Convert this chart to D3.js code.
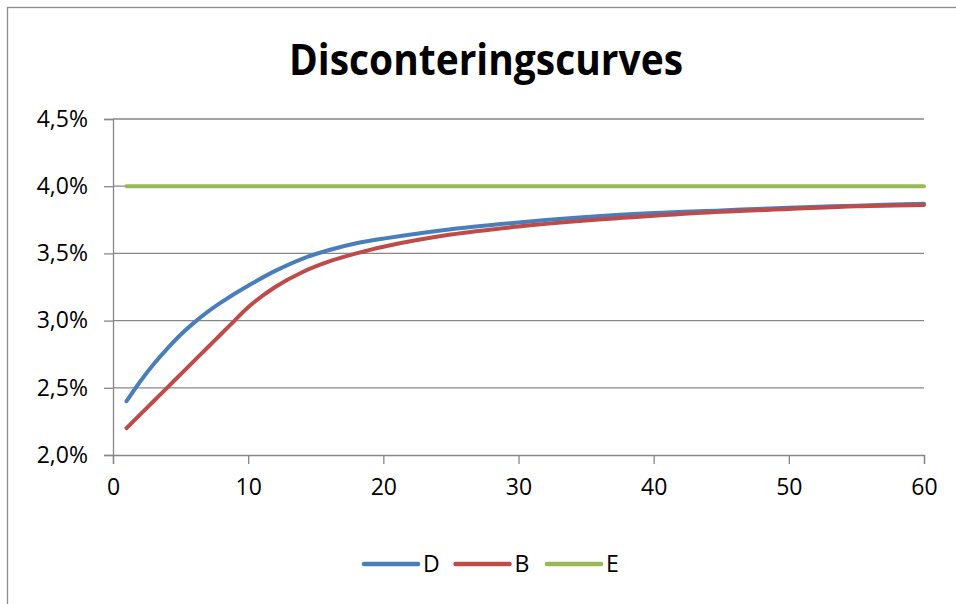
<!DOCTYPE html>
<html>
<head>
<meta charset="utf-8">
<script src="https://cdn.jsdelivr.net/npm/d3@7"></script>
<style>
  body { margin: 0; background: #fff; }
  text { font-family: "Open Sans", "DejaVu Sans", sans-serif; fill: #000; }
</style>
</head>
<body>
<svg id="chart" width="956" height="604"></svg>
<script>
// values (rate in %)
const years = [1, 2, 3, 4, 5, 6, 7, 8, 9, 10, 12, 14, 16, 18, 20, 25, 30, 35, 40, 45, 50, 55, 60];
const seriesD = [2.40, 2.545, 2.675, 2.79, 2.895, 2.985, 3.065, 3.135, 3.20, 3.26, 3.37, 3.46, 3.525, 3.575, 3.61, 3.68, 3.73, 3.77, 3.80, 3.82, 3.84, 3.855, 3.87];
const seriesB = [2.20, 2.30, 2.40, 2.50, 2.60, 2.70, 2.80, 2.90, 3.00, 3.10, 3.25, 3.36, 3.44, 3.50, 3.55, 3.64, 3.70, 3.745, 3.78, 3.81, 3.83, 3.85, 3.86];
const seriesE = [4.00, 4.00, 4.00, 4.00, 4.00, 4.00, 4.00, 4.00, 4.00, 4.00, 4.00, 4.00, 4.00, 4.00, 4.00, 4.00, 4.00, 4.00, 4.00, 4.00, 4.00, 4.00, 4.00];
const seriesNames = ["D", "B", "E"];
const seriesColors = ["#4a7ebb", "#be4b48", "#98b954"];
const yTicks = [2.0, 2.5, 3.0, 3.5, 4.0, 4.5];
const xTicks = [0, 10, 20, 30, 40, 50, 60];

const svg = d3.select("#chart");

// outer chart frame (right/bottom edges fall outside the picture)
svg.append("rect")
    .attr("x", 7.5).attr("y", 7.5)
    .attr("width", 970).attr("height", 620)
    .attr("fill", "#fff")
    .attr("stroke", "#8c8c8c")
    .attr("stroke-width", 1.3);

let x = d3.scaleLinear().domain([0, 60]).range([113, 924]);
let y = d3.scaleLinear().domain([2.0, 4.5]).range([455, 119]);

// title
svg.append("text")
    .attr("x", 486).attr("y", 75)
    .attr("text-anchor", "middle")
    .attr("font-size", "43px")
    .attr("font-weight", "bold")
    .attr("textLength", 394)
    .attr("lengthAdjust", "spacingAndGlyphs")
    .text("Disconteringscurves");

// horizontal gridlines
svg.append("g")
    .selectAll("line")
    .data(yTicks.filter(d => d > 2.0))
    .join("line")
    .attr("x1", x(0)).attr("x2", x(60))
    .attr("y1", d => y(d)).attr("y2", d => y(d))
    .attr("stroke", "#878787")
    .attr("stroke-width", 1.3);

const fmt = d => d.toFixed(1).replace(".", ",") + "%";

// y axis
const yAxis = svg.append("g")
    .attr("transform", `translate(${x(0)},0)`)
    .call(d3.axisLeft(y).tickValues(yTicks).tickFormat(fmt).tickSize(9).tickPadding(16));

// x axis
const xAxis = svg.append("g")
    .attr("transform", `translate(0,${y(2.0)})`)
    .call(d3.axisBottom(x).tickValues(xTicks).tickSize(9).tickPadding(15));

[yAxis, xAxis].forEach(g => {
    g.select(".domain").attr("stroke", "#878787").attr("stroke-width", 1.3);
    g.selectAll(".tick line").attr("stroke", "#878787").attr("stroke-width", 1.3);
    g.selectAll(".tick text")
        .attr("font-family", "'Open Sans', sans-serif")
        .attr("font-size", "23px")
        .attr("fill", "#000");
});

// lines (Excel smoothed lines)
const line = d3.line()
    .x((d, i) => x(years[i]))
    .y(d => y(d))
    .curve(d3.curveCatmullRom.alpha(0.5));

[seriesD, seriesB, seriesE].forEach((vals, i) => {
    svg.append("path")
        .datum(vals)
        .attr("d", line)
        .attr("fill", "none")
        .attr("stroke", seriesColors[i])
        .attr("stroke-width", 4)
        .attr("stroke-linecap", "round");
});

// legend
const legend = svg.append("g")
    .attr("transform", "translate(364,564)");

const item = legend.selectAll("g")
    .data(seriesNames)
    .join("g")
    .attr("transform", (d, i) => `translate(${i * 91.5},0)`);

item.append("line")
    .attr("x1", 0).attr("x2", 54)
    .attr("y1", 0).attr("y2", 0)
    .attr("stroke", (d, i) => seriesColors[i])
    .attr("stroke-width", 4.5)
    .attr("stroke-linecap", "round");

item.append("text")
    .attr("x", 59)
    .attr("y", 8)
    .attr("font-size", "23px")
    .text(d => d);
</script>
</body>
</html>
